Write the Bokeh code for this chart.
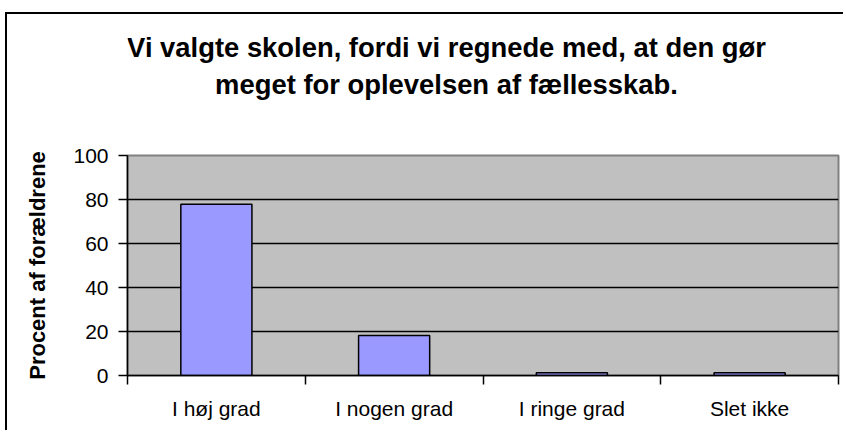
from bokeh.plotting import figure
from bokeh.layouts import column
from bokeh.models import Range1d, FixedTicker, Label
from bokeh.embed import file_html
from bokeh.resources import INLINE

title_lines = ["Vi valgte skolen, fordi vi regnede med, at den gør",
               "meget for oplevelsen af fællesskab."]
categories = ["I høj grad", "I nogen grad", "I ringe grad", "Slet ikke"]
values = [77.8, 18.2, 1.2, 1.2]
y_ticks = [0, 20, 40, 60, 80, 100]
y_label = "Procent af forældrene"

FONT = "Liberation Sans"

# layout in pixels
W = 836
TITLE_H = 126
CHART_H = 290
ML, MR, MT, MB = 120, 5, 15, 55

# ---- title strip (content pixel coordinates) ----
pt = figure(width=W, height=TITLE_H, output_backend="svg", toolbar_location=None,
            x_range=Range1d(ML, W - MR), y_range=Range1d(0, TITLE_H),
            x_axis_location=None, y_axis_location=None,
            min_border_left=ML, min_border_right=MR,
            min_border_top=0, min_border_bottom=0)
pt.grid.visible = False
pt.outline_line_color = None
pt.background_fill_color = "white"
pt.border_fill_color = "white"
title_x = 439
title_baselines = [93.5, 56]
for txt, yy in zip(title_lines, title_baselines):
    pt.add_layout(Label(x=title_x, y=yy, text=txt, text_align="center",
                        text_baseline="alphabetic", text_font=FONT,
                        text_font_style="bold", text_font_size="27.4px",
                        text_color="black"))

# ---- chart ----
xs = [i + 0.5 for i in range(len(categories))]
n = len(categories)

p = figure(width=W, height=CHART_H, output_backend="svg", toolbar_location=None,
           x_range=Range1d(0, n), y_range=Range1d(0, 100),
           min_border_left=ML, min_border_right=MR, min_border_top=MT,
           min_border_bottom=MB)
p.background_fill_color = "#C0C0C0"
p.border_fill_color = "white"
p.outline_line_color = "#808080"
p.outline_line_width = 2

p.xgrid.visible = False
p.ygrid.ticker = FixedTicker(ticks=y_ticks[1:-1])
p.ygrid.grid_line_color = "black"
p.ygrid.grid_line_width = 1.5

p.vbar(x=xs, top=values, width=0.4, fill_color="#9999FF",
       line_color="black", line_width=1.5)

ya = p.yaxis[0]
ya.ticker = FixedTicker(ticks=y_ticks, minor_ticks=[])
ya.major_tick_out = 9
ya.major_tick_in = 0
ya.major_tick_line_color = "black"
ya.major_tick_line_width = 1.5
ya.axis_line_color = "black"
ya.axis_line_width = 1.5
ya.major_label_text_font = FONT
ya.major_label_text_font_size = "21px"
ya.major_label_text_color = "black"
ya.major_label_standoff = 10
ya.axis_label = y_label
ya.axis_label_text_font = FONT
ya.axis_label_text_font_style = "bold"
ya.axis_label_text_font_size = "22px"
ya.axis_label_text_color = "black"
ya.axis_label_standoff = 20

xa = p.xaxis[0]
xa.ticker = FixedTicker(ticks=xs, minor_ticks=list(range(n + 1)))
xa.major_label_overrides = {x: c for x, c in zip(xs, categories)}
xa.major_tick_line_color = None
xa.minor_tick_out = 9
xa.minor_tick_in = 0
xa.minor_tick_line_color = "black"
xa.minor_tick_line_width = 1.5
xa.axis_line_color = "black"
xa.axis_line_width = 1.5
xa.major_label_text_font = FONT
xa.major_label_text_font_size = "21px"
xa.major_label_text_color = "black"
xa.major_label_standoff = 12

layout = column(pt, p, spacing=0)
layout.styles = {"border-left": "2px solid black", "border-top": "2px solid black"}
layout.margin = (12, 0, 0, 5)

open("out.html", "w").write(file_html(layout, INLINE))
